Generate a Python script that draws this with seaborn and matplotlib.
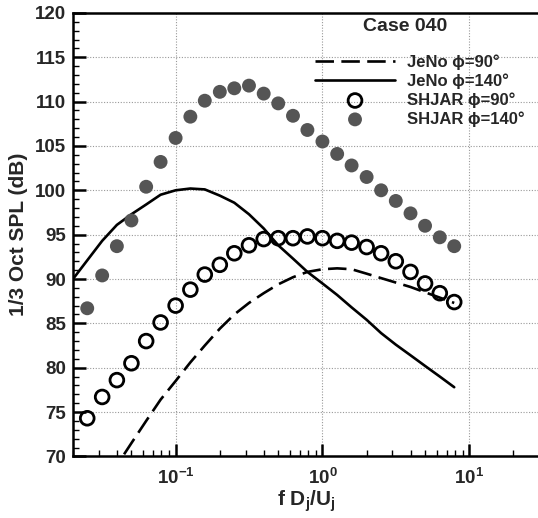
import matplotlib
matplotlib.use("Agg")
import matplotlib.pyplot as plt
from matplotlib.lines import TICKRIGHT, TICKUP
from matplotlib.ticker import LogLocator, NullFormatter, MultipleLocator, FixedLocator, FixedFormatter
import pandas as pd
import seaborn as sns

# 1/3-octave band centres (Strouhal number f Dj/Uj)
freq = [0.025, 0.0316, 0.0398, 0.05, 0.063, 0.079, 0.1, 0.126, 0.158, 0.2,
        0.251, 0.316, 0.398, 0.5, 0.63, 0.79, 1.0, 1.26, 1.58, 2.0,
        2.51, 3.16, 3.98, 5.0, 6.3, 7.9]

# SHJAR measurements
shjar_140 = [86.7, 90.4, 93.7, 96.6, 100.4, 103.2, 105.9, 108.3, 110.1, 111.1,
             111.5, 111.8, 110.9, 109.8, 108.4, 106.8, 105.5, 104.1, 102.8, 101.5,
             100.0, 98.8, 97.4, 96.0, 94.7, 93.7]
shjar_90 = [74.3, 76.7, 78.6, 80.5, 83.0, 85.1, 87.0, 88.8, 90.5, 91.6,
            92.9, 93.8, 94.5, 94.6, 94.6, 94.8, 94.6, 94.3, 94.1, 93.6,
            92.9, 92.0, 90.8, 89.5, 88.4, 87.4]

# JeNo predictions
jeno_freq = [0.02] + freq
jeno_140 = [90.0, 92.1, 94.3, 96.1, 97.3, 98.4, 99.5, 100.0, 100.2, 100.1,
            99.4, 98.6, 97.3, 95.7, 93.8, 92.3, 90.8, 89.5, 88.2, 86.8,
            85.4, 83.9, 82.6, 81.4, 80.2, 79.0, 77.8]
jeno_90 = [61.5, 64.0, 66.5, 69.0, 71.5, 74.0, 76.4, 78.5, 80.6, 82.5,
           84.4, 86.0, 87.3, 88.4, 89.4, 90.2, 90.8, 91.1, 91.2, 91.1,
           90.6, 90.1, 89.6, 89.1, 88.5, 87.9, 87.3]

x_ticks = [0.1, 1, 10]
x_ticklabels = [r"$\mathbf{10^{-1}}$", r"$\mathbf{10^{0}}$", r"$\mathbf{10^{1}}$"]

sns.set_style("ticks")
plt.rcParams["font.family"] = ["Liberation Sans", "DejaVu Sans"]
plt.rcParams["font.weight"] = "bold"
plt.rcParams["mathtext.fontset"] = "custom"
plt.rcParams["mathtext.rm"] = "Liberation Sans:bold"
plt.rcParams["mathtext.it"] = "Liberation Sans:bold"
plt.rcParams["mathtext.bf"] = "Liberation Sans:bold"

meas = pd.DataFrame({"f": freq, "spl140": shjar_140, "spl90": shjar_90})
pred = pd.DataFrame({"f": jeno_freq, "spl140": jeno_140, "spl90": jeno_90})

fig = plt.figure(figsize=(5.38, 5.18), dpi=100)
ax = fig.add_axes([73 / 538, 61.6 / 518, 466.3 / 538, 443.5 / 518])

sns.lineplot(data=pred, x="f", y="spl90", ax=ax, color="black", lw=1.9,
             label="JeNo \u03d5=90\u00b0", zorder=2)
ax.lines[-1].set_dashes((7, 2.8))
sns.lineplot(data=pred, x="f", y="spl140", ax=ax, color="black", lw=1.9,
             label="JeNo \u03d5=140\u00b0", zorder=2)
sns.scatterplot(data=meas, x="f", y="spl90", ax=ax, marker="o", s=98,
                facecolor="none", edgecolor="black", linewidth=2.0,
                label="SHJAR \u03d5=90\u00b0", zorder=3)
sns.scatterplot(data=meas, x="f", y="spl140", ax=ax, marker="o", s=100,
                color="#555555", edgecolor="none",
                label="SHJAR \u03d5=140\u00b0", zorder=3)

ax.set_xscale("log")
ax.set_xlim(0.02, 30)
ax.set_ylim(70, 120)
ax.yaxis.set_major_locator(MultipleLocator(5))
ax.yaxis.set_minor_locator(MultipleLocator(1))
ax.xaxis.set_major_locator(FixedLocator(x_ticks))
ax.xaxis.set_major_formatter(FixedFormatter(x_ticklabels))
ax.xaxis.set_minor_locator(LogLocator(base=10, subs=range(2, 10), numticks=20))
ax.xaxis.set_minor_formatter(NullFormatter())

ax.grid(True, which="major", linestyle=(0, (1, 1.5)), color="#999999", lw=0.8)
ax.tick_params(axis="y", which="major", labelsize=13.5, pad=5)
ax.tick_params(axis="x", which="major", labelsize=13.5, pad=8)

for side in ["left", "bottom", "top"]:
    ax.spines[side].set_linewidth(1.8)
    ax.spines[side].set_color("black")
ax.spines["right"].set_visible(False)

ax.set_xlabel(r"f D$_j$/U$_j$", fontsize=15, fontweight="bold", labelpad=1)
ax.set_ylabel("1/3 Oct SPL (dB)", fontsize=15, fontweight="bold", labelpad=5)

handles, labels = ax.get_legend_handles_labels()
leg = ax.legend(handles, labels, loc="upper right",
                bbox_to_anchor=(1.0, 0.94), frameon=False,
                handlelength=4.8, handletextpad=0.7, labelspacing=0.2,
                prop={"weight": "bold", "size": 12})
ax.text((405 - 73) / 466.3, 1 - (27 - 13) / 443.5, "Case 040",
        transform=ax.transAxes, ha="center", va="center",
        fontsize=14, fontweight="bold")

# inward ticks, set explicitly on the tick lines after a first draw
ax.tick_params(which="major", direction="in", length=9, width=1.8, color="black",
               left=True, bottom=True, top=False, right=False)
ax.tick_params(which="minor", direction="in", length=4.5, width=1.0, color="black",
               left=True, bottom=True, top=False, right=False)
fig.canvas.draw()
for axis, mk in [(ax.xaxis, TICKUP), (ax.yaxis, TICKRIGHT)]:
    for ticks, size, width in [(axis.get_major_ticks(), 9, 1.8),
                               (axis.get_minor_ticks(), 4.5, 1.0)]:
        for t in ticks:
            t.tick1line.set_visible(True)
            t.tick1line.set_marker(mk)
            t.tick1line.set_markersize(size)
            t.tick1line.set_markeredgewidth(width)
            t.tick1line.set_markeredgecolor("black")
            t.tick1line.set_alpha(1)

fig.savefig("out.png", dpi=100)
